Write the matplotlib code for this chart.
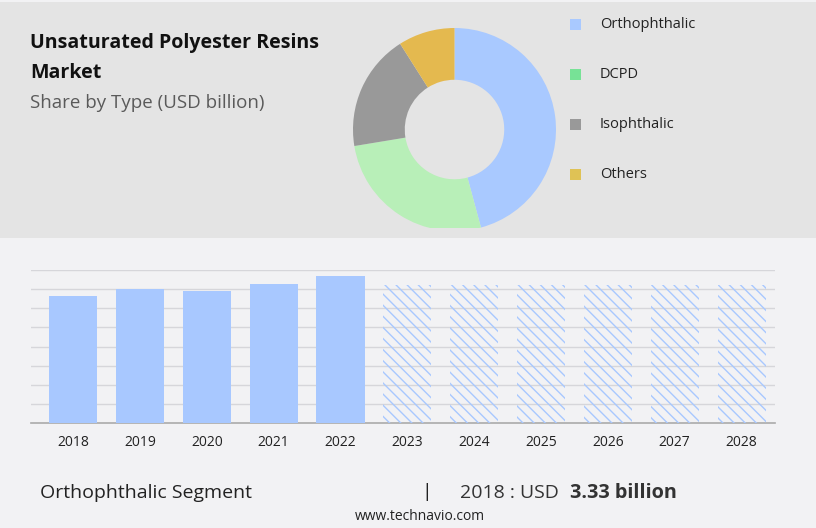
import matplotlib
matplotlib.use("Agg")
import matplotlib.pyplot as plt
from matplotlib.patches import Rectangle

plt.rcParams['font.family'] = ['Open Sans', 'DejaVu Sans']
plt.rcParams['hatch.linewidth'] = 1.0

# ---- data ----
types = ["Orthophthalic", "DCPD", "Isophthalic", "Others"]
shares = [45.8, 26.6, 18.6, 9.0]
pie_colors = ["#a9c9ff", "#b8efb8", "#999999", "#e4b94f"]
legend_colors = ["#a9c9ff", "#77e296", "#999999", "#dfc255"]

years = ["2018", "2019", "2020", "2021", "2022", "2023", "2024", "2025", "2026", "2027", "2028"]
values = [3.33, 3.51, 3.46, 3.64, 3.85, 3.61, 3.61, 3.61, 3.61, 3.61, 3.61]
n_actual = 5

W, H = 816, 528
fig = plt.figure(figsize=(W / 100, H / 100), dpi=100)
fig.patch.set_facecolor("#f2f2f4")

def px_axes(x0, y0, x1, y1, **kw):
    return fig.add_axes([x0 / W, 1 - y1 / H, (x1 - x0) / W, (y1 - y0) / H], **kw)

# background overlay
bg = px_axes(0, 0, W, H)
bg.set_xlim(0, W); bg.set_ylim(H, 0); bg.axis("off")
bg.add_patch(Rectangle((0, 2), W, 236, facecolor="#e4e4e4", edgecolor="none"))

# titles
bg.text(30, 43, "Unsaturated Polyester Resins", fontsize=14.1, fontweight="bold", color="#111111", va="center")
bg.text(30, 73, "Market", fontsize=14.1, fontweight="bold", color="#111111", va="center")
bg.text(30, 103, "Share by Type (USD billion)", fontsize=13.5, color="#5a5a5a", va="center")

# legend
for i, (lab, c) in enumerate(zip(types, legend_colors)):
    y = 24 + 50 * i
    bg.add_patch(Rectangle((570, y - 5.5), 11, 11, facecolor=c, edgecolor="none"))
    bg.text(600, y, lab, fontsize=10.5, color="#222222", va="center")

# footer
bg.text(40, 493, "Orthophthalic Segment", fontsize=14, color="#222222", va="center")
bg.text(421, 492, "|", fontsize=14, color="#222222", va="center")
bg.text(460, 493, "2018 : USD", fontsize=14, color="#333333", va="center")
bg.text(570, 493, "3.33 billion", fontsize=14.3, fontweight="bold", color="#333333", va="center")
bg.text(420, 516, "www.technavio.com", fontsize=10, color="#222222", va="center", ha="center")

# donut
pax = px_axes(353, 28, 556, 228)
wedges, _ = pax.pie(shares, colors=pie_colors, startangle=90, counterclock=False, radius=1,
                    wedgeprops=dict(width=0.51, edgecolor="none", linewidth=0))
pax.set_aspect("auto")
pax.set_xlim(-1, 1); pax.set_ylim(-0.97, 1.0)
pax.axis("off")
for w in wedges:
    w.set_clip_on(True)
    w.set_clip_box(pax.bbox)

# bar chart
bax = px_axes(31, 270, 775, 423)
bax.set_facecolor("none")
x = list(range(len(years)))
for i, (xi, v) in enumerate(zip(x, values)):
    if i < n_actual:
        bax.bar(xi, v, width=0.72, color="#a8c8ff", edgecolor="none", zorder=3)
    else:
        bax.bar(xi, v, width=0.72, facecolor="none", edgecolor="#a8c8ff", linewidth=0,
                hatch="\\\\\\", zorder=3)
bax.set_xlim(-0.63, 10.5)
bax.set_ylim(0, 4.0)
bax.set_yticks([0.5 * k for k in range(1, 9)])
bax.yaxis.grid(True, color="#d6d6da", linewidth=1)
bax.set_axisbelow(True)
bax.tick_params(axis="y", length=0, labelleft=False)
bax.tick_params(axis="x", length=0, pad=9, labelsize=10, labelcolor="#222222")
bax.set_xticks(x)
bax.set_xticklabels(years)
for s in ["top", "right", "left"]:
    bax.spines[s].set_visible(False)
bax.spines["bottom"].set_color("#aaaaaa")
bax.spines["bottom"].set_linewidth(1.2)

fig.savefig("out.png", dpi=100, facecolor=fig.get_facecolor())
